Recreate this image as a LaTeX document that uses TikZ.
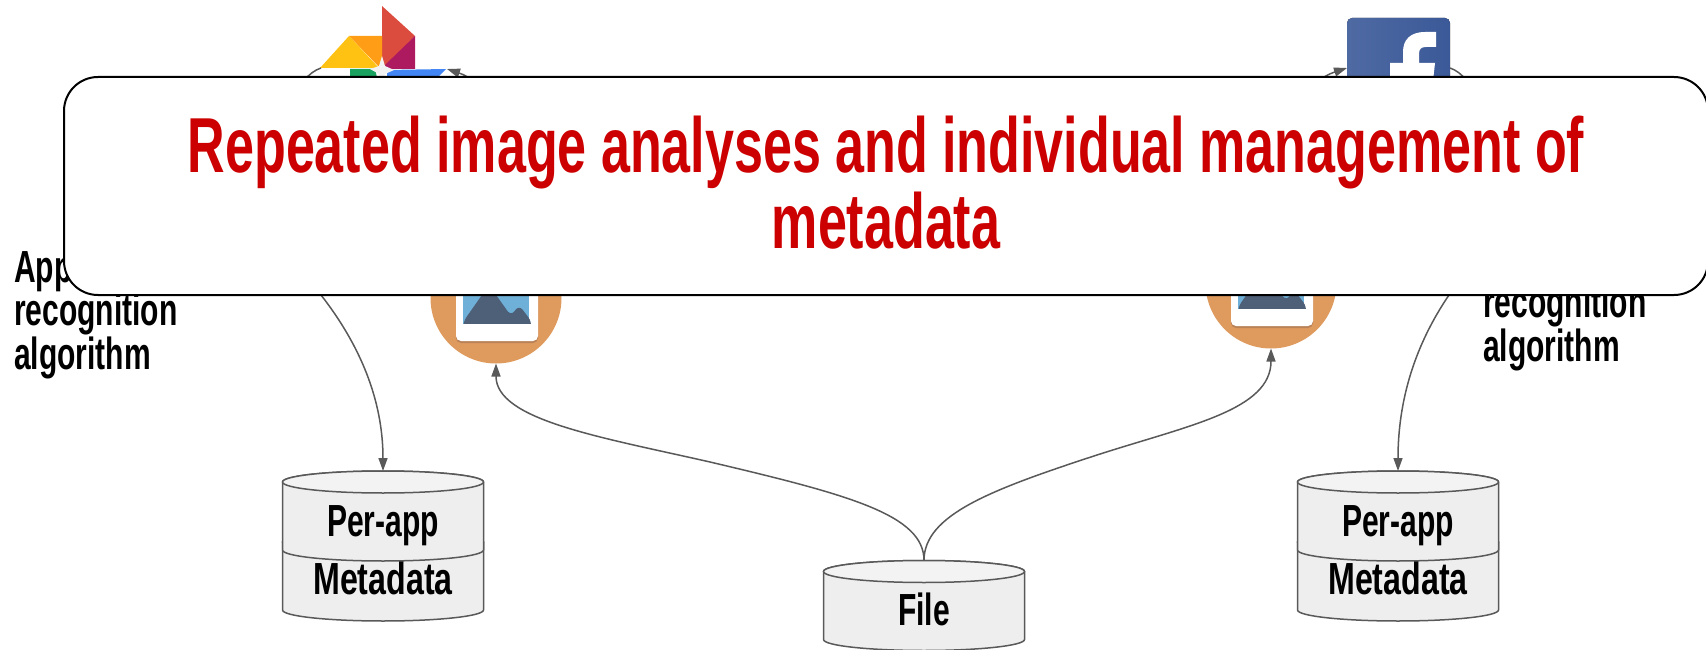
\documentclass[tikz,border=0pt]{standalone}
\usepackage{fontspec}
\usepackage{tikz}
\usetikzlibrary{%
    arrows.meta%
}
\newfontfamily\condfont[FakeStretch=0.667]{Liberation Sans}
\newfontfamily\condwide[FakeStretch=0.715]{Liberation Sans}
\definecolor{linegray}{HTML}{595959}
\definecolor{titlered}{HTML}{CC0000}
\definecolor{dbbody}{HTML}{EEEEEE}
\definecolor{dbtop}{HTML}{F3F3F3}
\definecolor{photobg}{HTML}{DF9A5E}
\definecolor{photoedge}{HTML}{B98257}
\definecolor{photosky}{HTML}{6FB0D8}
\definecolor{photohill}{HTML}{4E5F78}
\definecolor{fbleft}{HTML}{4F6AA3}
\definecolor{fbright}{HTML}{3B5998}
\definecolor{gred}{HTML}{DB4C3F}
\definecolor{gmagenta}{HTML}{AD1A5F}
\definecolor{gorange}{HTML}{FF9E16}
\definecolor{gyellow}{HTML}{FFC112}
\definecolor{ggreen}{HTML}{1AA260}
\definecolor{gblue}{HTML}{4285F4}
\tikzset{
  dbcyl/.pic={
    \draw[dbline, fill=dbbody] (-100.5, 0) -- (-100.5, 68)
      arc[start angle=180, end angle=360, x radius=100.5pt, y radius=11pt]
      -- (100.5, 0) arc[start angle=0, end angle=180, x radius=100.5pt, y radius=11pt];
    \draw[dbline, fill=dbtop] (0, 0) ellipse[x radius=100.5pt, y radius=11pt];
    \coordinate (-top) at (0, -11);
  },
  dbline/.style={draw=linegray, line width=1.5pt},
  dbtext/.style={anchor=base, inner sep=0pt, font=\condfont\bfseries\fontsize{45}{45}\selectfont},
  dbwide/.style={anchor=base, inner sep=0pt, font=\condwide\bfseries\fontsize{45}{45}\selectfont},
  algotext/.style={anchor=base west, inner sep=0pt, font=\condfont\bfseries\fontsize{45}{45}\selectfont},
  conn/.style={draw=linegray, line width=1.5pt, -{Stealth[length=13pt,width=9pt,inset=0pt]}},
  photo/.style={circle, fill=photobg, minimum size=131pt, inner sep=0pt, outer sep=0pt},
  banner/.style={draw=black, fill=white, line width=2pt, rounded corners=34pt},
  titletext/.style={anchor=base, inner sep=0pt, text=titlered, font=\condfont\bfseries\fontsize{78}{78}\selectfont}
}
\begin{document}
\begin{tikzpicture}[x=1pt, y=-1pt]
  \useasboundingbox (0, 0) rectangle (1706, 650);
  % storage
  \pic (metaL) at (383, 542) {dbcyl};
  \pic (perappL) at (383, 482) {dbcyl};
  \pic (metaR) at (1398, 542) {dbcyl};
  \pic (perappR) at (1398, 482) {dbcyl};
  \pic (file) at (924, 571.5) {dbcyl};
  \node[dbtext] (perappLtext) at (383, 536) {Per-app};
  \node[dbwide] (metaLtext) at (383, 594) {Metadata};
  \node[dbtext] (perappRtext) at (1398, 536) {Per-app};
  \node[dbwide] (metaRtext) at (1398, 594) {Metadata};
  \node[dbtext] (filetext) at (924, 625) {File};
  % photo icons
  \foreach \name/\cx/\cy in {photoL/496/298, photoR/1271/283} {
    \node[photo] (\name) at (\cx, \cy) {};
    \begin{scope}[shift={(\cx, \cy)}]
      \fill[photoedge, rounded corners=5pt] (-40, -50) rectangle (42, 45);
      \fill[white, rounded corners=5pt] (-40, -50) rectangle (42, 43);
      \fill[photosky] (-33, -45) rectangle (33, 26);
      \fill[photohill, rounded corners=6pt] (-33, 40) -- (-33, 24) -- (-7, -13) -- (15, 18) -- (23, 7) -- (36, 24) -- (33, 40) -- cycle;
      \fill[white] (-34, 26) rectangle (36, 42);
    \end{scope}
  }
  % google icon
  \fill[white] (320, 68) rectangle (446, 90);
  \fill[gred] (382, 6) -- (415, 36) -- (382, 72) -- cycle;
  \fill[gmagenta] (415, 36) -- (415, 69) -- (388, 69) -- (385, 65) -- cycle;
  \fill[gorange] (349, 36) -- (382, 36) -- (382, 63) -- (379, 67) -- cycle;
  \fill[gyellow] (349, 36) -- (320, 68) -- (379, 68) -- cycle;
  \fill[ggreen] (350, 69) -- (375, 69) -- (380, 90) -- (350, 90) -- cycle;
  \fill[gblue] (387, 70) -- (446, 69) -- (425, 90) -- (387, 90) -- cycle;
  \fill[gray!10] (382, 56) -- (385, 66) -- (394, 70) -- (385, 74) -- (382, 85) -- (379, 74) -- (370, 69) -- (379, 66) -- cycle;
  % facebook icon
  \fill[left color=fbleft, right color=fbright, rounded corners=5pt] (1347, 18) rectangle (1450, 90);
  \fill[white] (1436, 32) -- (1425, 32) .. controls (1410, 32) and (1403, 40) .. (1403, 52) -- (1403, 63)
    -- (1390, 63) -- (1390, 90) -- (1432, 90) -- (1435, 63) -- (1419, 63) -- (1419, 54)
    .. controls (1419, 49) and (1421, 47) .. (1426, 47) -- (1436, 47) -- cycle;
  \node[algotext] (algoL) at (14, 282) {App};
  \node[algotext] (recogL) at (14, 325) {recognition};
  \node[algotext] (algoLb) at (14, 369) {algorithm};
  \node[algotext] (recogR) at (1483, 317) {recognition};
  \node[algotext] (algoRb) at (1483, 361) {algorithm};
  % connectors
  \coordinate (gleft) at (321, 68);
  \coordinate (gright) at (447, 69);
  \coordinate (fleft) at (1347, 68);
  \coordinate (fright) at (1450, 68);
  \draw[conn] (gleft) .. controls (270, 85) and (270, 240) .. (321, 295)
    .. controls (360, 345) and (383, 400) .. (perappL-top);
  \draw[conn] (fright) .. controls (1500, 85) and (1500, 240) .. (1449, 295)
    .. controls (1415, 345) and (1398, 400) .. (perappR-top);
  \draw[conn] (photoL.north) .. controls (496, 100) and (480, 80) .. (gright);
  \draw[conn] (photoR.north) .. controls (1271, 120) and (1310, 80) .. (fleft);
  \draw[conn] (file-top) .. controls (924, 515) and (850, 495) .. (710, 462)
    .. controls (600, 437) and (496, 420) .. (photoL.south);
  \draw[conn] (file-top) .. controls (924, 515) and (990, 490) .. (1097, 455)
    .. controls (1190, 425) and (1271, 410) .. (photoR.south);
  % title box
  \draw[banner] (64, 77) rectangle (1708, 295);
  \node[titletext] (titleA) at (886, 172) {Repeated image analyses and individual management of};
  \node[titletext] (titleB) at (886, 248) {metadata};
\end{tikzpicture}
\end{document}
